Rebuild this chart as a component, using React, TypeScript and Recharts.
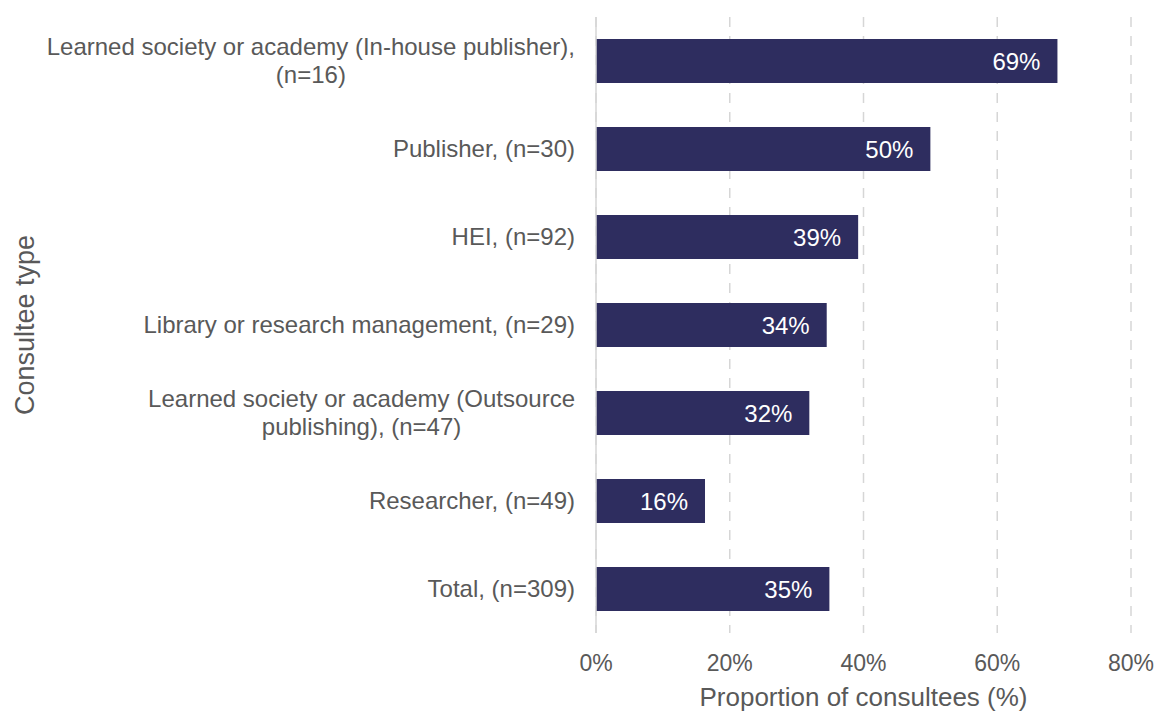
import React from 'react'
import { BarChart, Bar, XAxis, YAxis, CartesianGrid, LabelList } from 'recharts'

// consultee groups, top to bottom ("\n" = line break in the axis label)
const categories = [
  'Learned society or academy (In-house publisher),\n(n=16)',
  'Publisher, (n=30)',
  'HEI, (n=92)',
  'Library or research management, (n=29)',
  'Learned society or academy (Outsource\npublishing), (n=47)',
  'Researcher, (n=49)',
  'Total, (n=309)',
]
const shares = [69, 50, 39.2, 34.5, 31.9, 16.3, 34.9]
const shareLabels = ['69%', '50%', '39%', '34%', '32%', '16%', '35%']
const xTicks = [0, 20, 40, 60, 80]

const FONT = '"Liberation Sans", Arial, sans-serif'
const TEXT = '#595959'
const BAR = '#2e2d5f'
const GRID = '#d6d6d6'
const CAT_FS = 24
const CAT_LH = 28

const data = categories.map((name, i) => ({ name, value: shares[i], label: shareLabels[i] }))

let ctx: CanvasRenderingContext2D | null = null
function textWidth(s: string) {
  if (!ctx) {
    ctx = document.createElement('canvas').getContext('2d')
    if (ctx) ctx.font = `${CAT_FS}px ${FONT}`
  }
  return ctx ? ctx.measureText(s).width : s.length * CAT_FS * 0.5
}

function CategoryTick(props: any) {
  const { x, y, payload } = props
  const lines: string[] = String(payload.value).split('\n')
  const right = x - 13
  const widest = Math.max(...lines.map(textWidth))
  const cx = right - widest / 2
  const top = y - ((lines.length - 1) * CAT_LH) / 2
  return (
    <text textAnchor="middle" fill={TEXT} fontSize={CAT_FS} fontFamily={FONT}>
      {lines.map((ln, i) => (
        <tspan key={i} x={cx} y={top + i * CAT_LH} dy="0.35em">{ln}</tspan>
      ))}
    </text>
  )
}

function PctTick(props: any) {
  const { x, y, payload } = props
  return (
    <text x={x} y={y + 30} textAnchor="middle" fill={TEXT} fontSize={23} fontFamily={FONT}>
      {payload.value}%
    </text>
  )
}

export default function App() {
  return (
    <div style={{ width: 1158, height: 713, background: '#fff' }}>
      <style>{'body{margin:0}'}</style>
      <BarChart
        width={1158}
        height={713}
        data={data}
        layout="vertical"
        margin={{ top: 17, right: 27, bottom: 0, left: 0 }}
        barCategoryGap="25%"
      >
        <CartesianGrid horizontal={false} stroke={GRID} strokeWidth={1.5} strokeDasharray="10 9" />
        <XAxis
          type="number"
          domain={[0, 80]}
          ticks={xTicks}
          axisLine={false}
          tickLine={false}
          height={80}
          tick={<PctTick />}
          label={{
            content: (p: any) => {
              const vb = p.viewBox
              return (
                <text x={vb.x + vb.width / 2} y={706} textAnchor="middle" fill={TEXT} fontSize={26} fontFamily={FONT}>
                  Proportion of consultees (%)
                </text>
              )
            },
          }}
        />
        <YAxis
          type="category"
          dataKey="name"
          width={596}
          axisLine={{ stroke: GRID, strokeWidth: 1.5 }}
          tickLine={false}
          tick={<CategoryTick />}
          interval={0}
          label={{
            content: (p: any) => {
              const vb = p.viewBox
              const cy = vb.y + vb.height / 2
              return (
                <text
                  x={25}
                  y={cy}
                  transform={`rotate(-90 25 ${cy})`}
                  textAnchor="middle"
                  dy="0.35em"
                  fill={TEXT}
                  fontSize={27}
                  fontFamily={FONT}
                >
                  Consultee type
                </text>
              )
            },
          }}
        />
        <Bar dataKey="value" fill={BAR} barSize={44} isAnimationActive={false}>
          <LabelList dataKey="label" position="insideRight" offset={17} fill="#ffffff" fontSize={24} fontFamily={FONT} />
        </Bar>
      </BarChart>
    </div>
  )
}
